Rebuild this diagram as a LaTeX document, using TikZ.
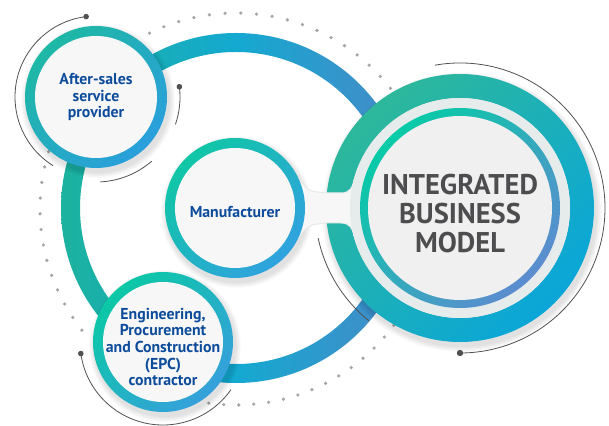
\documentclass[tikz,border=0pt]{standalone}
\usepackage{fontspec}
\setmainfont{PT Sans}

\definecolor{bigL}{HTML}{1CB29E}
\definecolor{bigM}{HTML}{14A9D0}
\definecolor{bigR}{HTML}{4A88C8}
\definecolor{asTop}{HTML}{1EB8A5}
\definecolor{asBot}{HTML}{2A9FDC}
\definecolor{mfTop}{HTML}{10C6A6}
\definecolor{mfBot}{HTML}{30A2DF}
\definecolor{epcTop}{HTML}{0BC8A6}
\definecolor{epcBot}{HTML}{36A0DC}
\definecolor{intTop}{HTML}{2DB89B}
\definecolor{intBot}{HTML}{0AA6D8}
\definecolor{innTop}{HTML}{06CBA7}
\definecolor{innBot}{HTML}{5C8CD0}
\definecolor{gapgrey}{HTML}{E6EBEC}
\definecolor{discwhite}{HTML}{F7F7F7}
\definecolor{textblue}{HTML}{0D4C9B}
\definecolor{textgrey}{HTML}{4D4D4F}
\definecolor{arcgrey}{HTML}{505050}
\definecolor{dotgrey}{HTML}{A6A6A6}

\begin{document}
\begin{tikzpicture}[x=1pt,y=1pt,
    ring/.style 2 args={circle,inner sep=0pt,top color=#1,bottom color=#2,shading angle=45},
    disc/.style={circle,inner sep=0pt,fill=discwhite},
    label/.style={align=center,text=textblue,font=\bfseries\fontsize{15.8}{16.7}\selectfont},
    biglabel/.style={align=center,text=textgrey,font=\bfseries\fontsize{28.5}{29}\selectfont},
    dot/.style={fill=dotgrey},
    thinarc/.style={draw=arcgrey,line width=0.8pt},
    neck/.style={fill=discwhite,draw=gapgrey,line width=1pt}]
    \useasboundingbox (0,0) rectangle (609,425);

    \coordinate (ringc) at (236,217);
    \coordinate (dotc) at (236,216);
    \coordinate (asc) at (96,328);
    \coordinate (mfc) at (235,217);
    \coordinate (epcc) at (163,83);
    \coordinate (ibmc) at (460,217);

    % dotted circle
    \foreach \a in {38,42.6,...,118} \fill[dot] (dotc) ++(\a:196pt) circle (1.8pt);
    \foreach \a in {163,167.6,...,221} \fill[dot] (dotc) ++(\a:196pt) circle (1.8pt);
    \foreach \a in {262,266.4,...,324} \fill[dot] (dotc) ++(\a:196pt) circle (1.8pt);

    % big ring
    \shade[left color=bigL,right color=bigR,middle color=bigM,even odd rule]
        (ringc) circle (175pt) (ringc) circle (156pt);

    % soft shadows
    \foreach \c/\r in {asc/71,mfc/70,epcc/70,ibmc/134}
        \foreach \k in {1,...,6}
            \fill[black,opacity=0.02] (\c) ++(2pt,-4pt) circle ({(\r+\k)*1pt});

    % integrated business model
    \shade[top color=intTop,bottom color=intBot,shading angle=45,even odd rule]
        (ibmc) circle (134pt) (ibmc) circle (110pt);
    \filldraw[neck] (298.4,246.6) .. controls (308,234) .. (326,232) -- (341,232)
        .. controls (350,232) and (353,238) .. (354,245) -- (382,245) -- (382,189)
        -- (354,189) .. controls (353,196) and (350,202) .. (341,202) -- (326,202)
        .. controls (308,200) .. (298.4,187.4) -- cycle;
    \fill[gapgrey] (ibmc) circle (110pt);
    \node[ring={innTop}{innBot},minimum size=200pt] (ibmring) at (ibmc) {};
    \node[disc,fill=discwhite!97!black,minimum size=184pt] (ibm) at (ibmc) {};
    \node[biglabel] (ibmtext) at (460,211.5) {INTEGRATED\\BUSINESS\\MODEL};

    % after-sales
    \node[ring={asTop}{asBot},minimum size=142pt] (asring) at (asc) {};
    \node[disc,minimum size=122pt] (as) at (asc) {};
    \node[label] (astext) at (96,328) {After-sales\\service\\provider};

    % manufacturer
    \node[ring={mfTop}{mfBot},minimum size=140pt] (mfring) at (mfc) {};
    \node[disc,minimum size=120pt] (mf) at (mfc) {};
    \node[label] (mftext) at (235,213) {Manufacturer};

    % epc
    \node[ring={epcTop}{epcBot},minimum size=140pt] (epcring) at (epcc) {};
    \node[disc,minimum size=120pt] (epc) at (epcc) {};
    \node[label] (epctext) at (163,78) {Engineering,\\Procurement\\and Construction\\(EPC)\\contractor};

    % thin arcs
    \draw[thinarc] (asc) ++(97:81pt) arc[start angle=97,end angle=238,radius=81pt];
    \fill[arcgrey] (asc) ++(97:81pt) circle (2.8pt);
    \draw[thinarc] (asc) ++(7:84pt) arc[start angle=7,end angle=-19,radius=84pt];
    \fill[arcgrey] (asc) ++(7:84pt) circle (2.8pt);
    \draw[thinarc] (asc) ++(-49:85pt) arc[start angle=-49,end angle=-87,radius=85pt];
    \draw[thinarc] (epcc) ++(188:83pt) arc[start angle=188,end angle=325,radius=83pt];
    \fill[arcgrey] (epcc) ++(188:83pt) circle (2.8pt);
    \draw[thinarc] (ibmc) ++(100:145pt) arc[start angle=100,end angle=-90,radius=145pt];
    \fill[arcgrey] (ibmc) ++(-90:145pt) circle (3.2pt);
    \draw[thinarc] (ibmc) ++(192:145pt) arc[start angle=192,end angle=231,radius=145pt];
\end{tikzpicture}
\end{document}
